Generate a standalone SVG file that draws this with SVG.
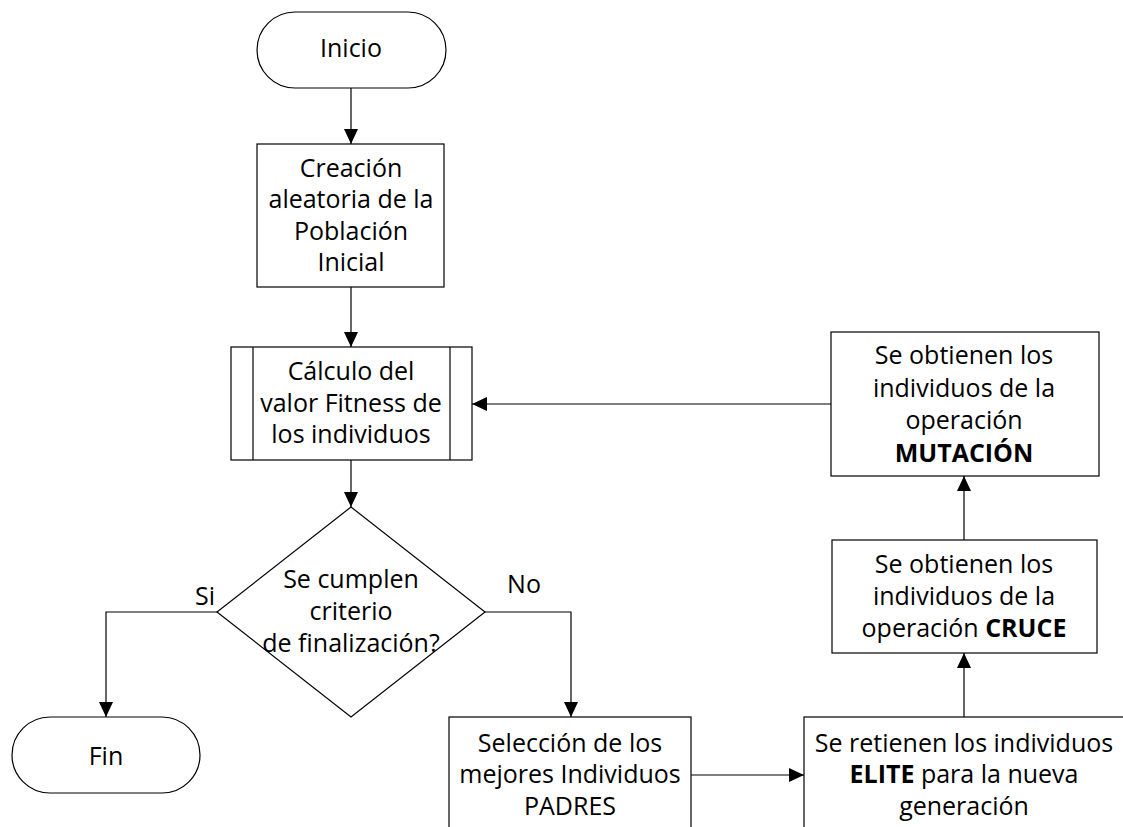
<svg xmlns="http://www.w3.org/2000/svg" width="1123" height="827" viewBox="0 0 1123 827">
  <style>
    .shape { fill: #ffffff; stroke: #000000; stroke-width: 1.2; }
    .edge { fill: none; stroke: #000000; stroke-width: 1.2; marker-end: url(#arrow); }
    text { font-family: "Open Sans", "Noto Sans", sans-serif; font-size: 25px; fill: #000000; text-anchor: middle; }
    .b { font-weight: bold; }
  </style>
  <defs>
    <marker id="arrow" markerUnits="userSpaceOnUse" markerWidth="15" markerHeight="14" refX="15" refY="7" orient="auto">
      <path d="M0,0 L15,7 L0,14 z" fill="#000000"/>
    </marker>
  </defs>
  <rect width="1123" height="827" fill="#ffffff"/>

  <!-- connectors -->
  <g id="connectors">
    <path class="edge" d="M351,88 V144"/>
    <path class="edge" d="M351,287 V347"/>
    <path class="edge" d="M351,460 V507"/>
    <path class="edge" d="M217,612 H106 V717"/>
    <path class="edge" d="M485,612 H571 V717"/>
    <path class="edge" d="M691,775 H804"/>
    <path class="edge" d="M964,717 V653"/>
    <path class="edge" d="M964,540 V476"/>
    <path class="edge" d="M831,404 H472"/>
    <text x="205" y="605">Si</text>
    <text x="524" y="593">No</text>
  </g>

  <g id="inicio">
    <rect class="shape" x="257" y="12" width="189" height="76" rx="38" ry="38"/>
    <text x="351" y="57">Inicio</text>
  </g>

  <g id="creacion">
    <rect class="shape" x="257" y="144" width="187" height="143"/>
    <text x="351" y="177">Creación</text>
    <text x="351" y="208">aleatoria de la</text>
    <text x="351" y="240">Población</text>
    <text x="351" y="271">Inicial</text>
  </g>

  <g id="fitness">
    <rect class="shape" x="231" y="347" width="241" height="113"/>
    <line class="shape" x1="253" y1="347" x2="253" y2="460"/>
    <line class="shape" x1="450" y1="347" x2="450" y2="460"/>
    <text x="351" y="380">Cálculo del</text>
    <text x="351" y="412">valor Fitness de</text>
    <text x="351" y="443">los individuos</text>
  </g>

  <g id="decision">
    <polygon class="shape" points="351,507 485,612 351,717 217,612"/>
    <text x="351" y="588">Se cumplen</text>
    <text x="351" y="620">criterio</text>
    <text x="351" y="652">de finalización?</text>
  </g>

  <g id="fin">
    <rect class="shape" x="12" y="717" width="188" height="76" rx="38" ry="38"/>
    <text x="106" y="765">Fin</text>
  </g>

  <g id="seleccion">
    <rect class="shape" x="449" y="717" width="242" height="150"/>
    <text x="570" y="752">Selección de los</text>
    <text x="570" y="783">mejores Individuos</text>
    <text x="570" y="815">PADRES</text>
  </g>

  <g id="elite">
    <rect class="shape" x="804" y="717" width="322" height="150"/>
    <text x="964" y="752">Se retienen los individuos</text>
    <text x="964" y="783"><tspan class="b">ELITE</tspan> para la nueva</text>
    <text x="964" y="815">generación</text>
  </g>

  <g id="cruce">
    <rect class="shape" x="832" y="540" width="265" height="113"/>
    <text x="964" y="573">Se obtienen los</text>
    <text x="964" y="605">individuos de la</text>
    <text x="964" y="637">operación <tspan class="b">CRUCE</tspan></text>
  </g>

  <g id="mutacion">
    <rect class="shape" x="831" y="332" width="268" height="144"/>
    <text x="964" y="364">Se obtienen los</text>
    <text x="964" y="397">individuos de la</text>
    <text x="964" y="429">operación</text>
    <text x="964" y="462" class="b">MUTACIÓN</text>
  </g>
</svg>
